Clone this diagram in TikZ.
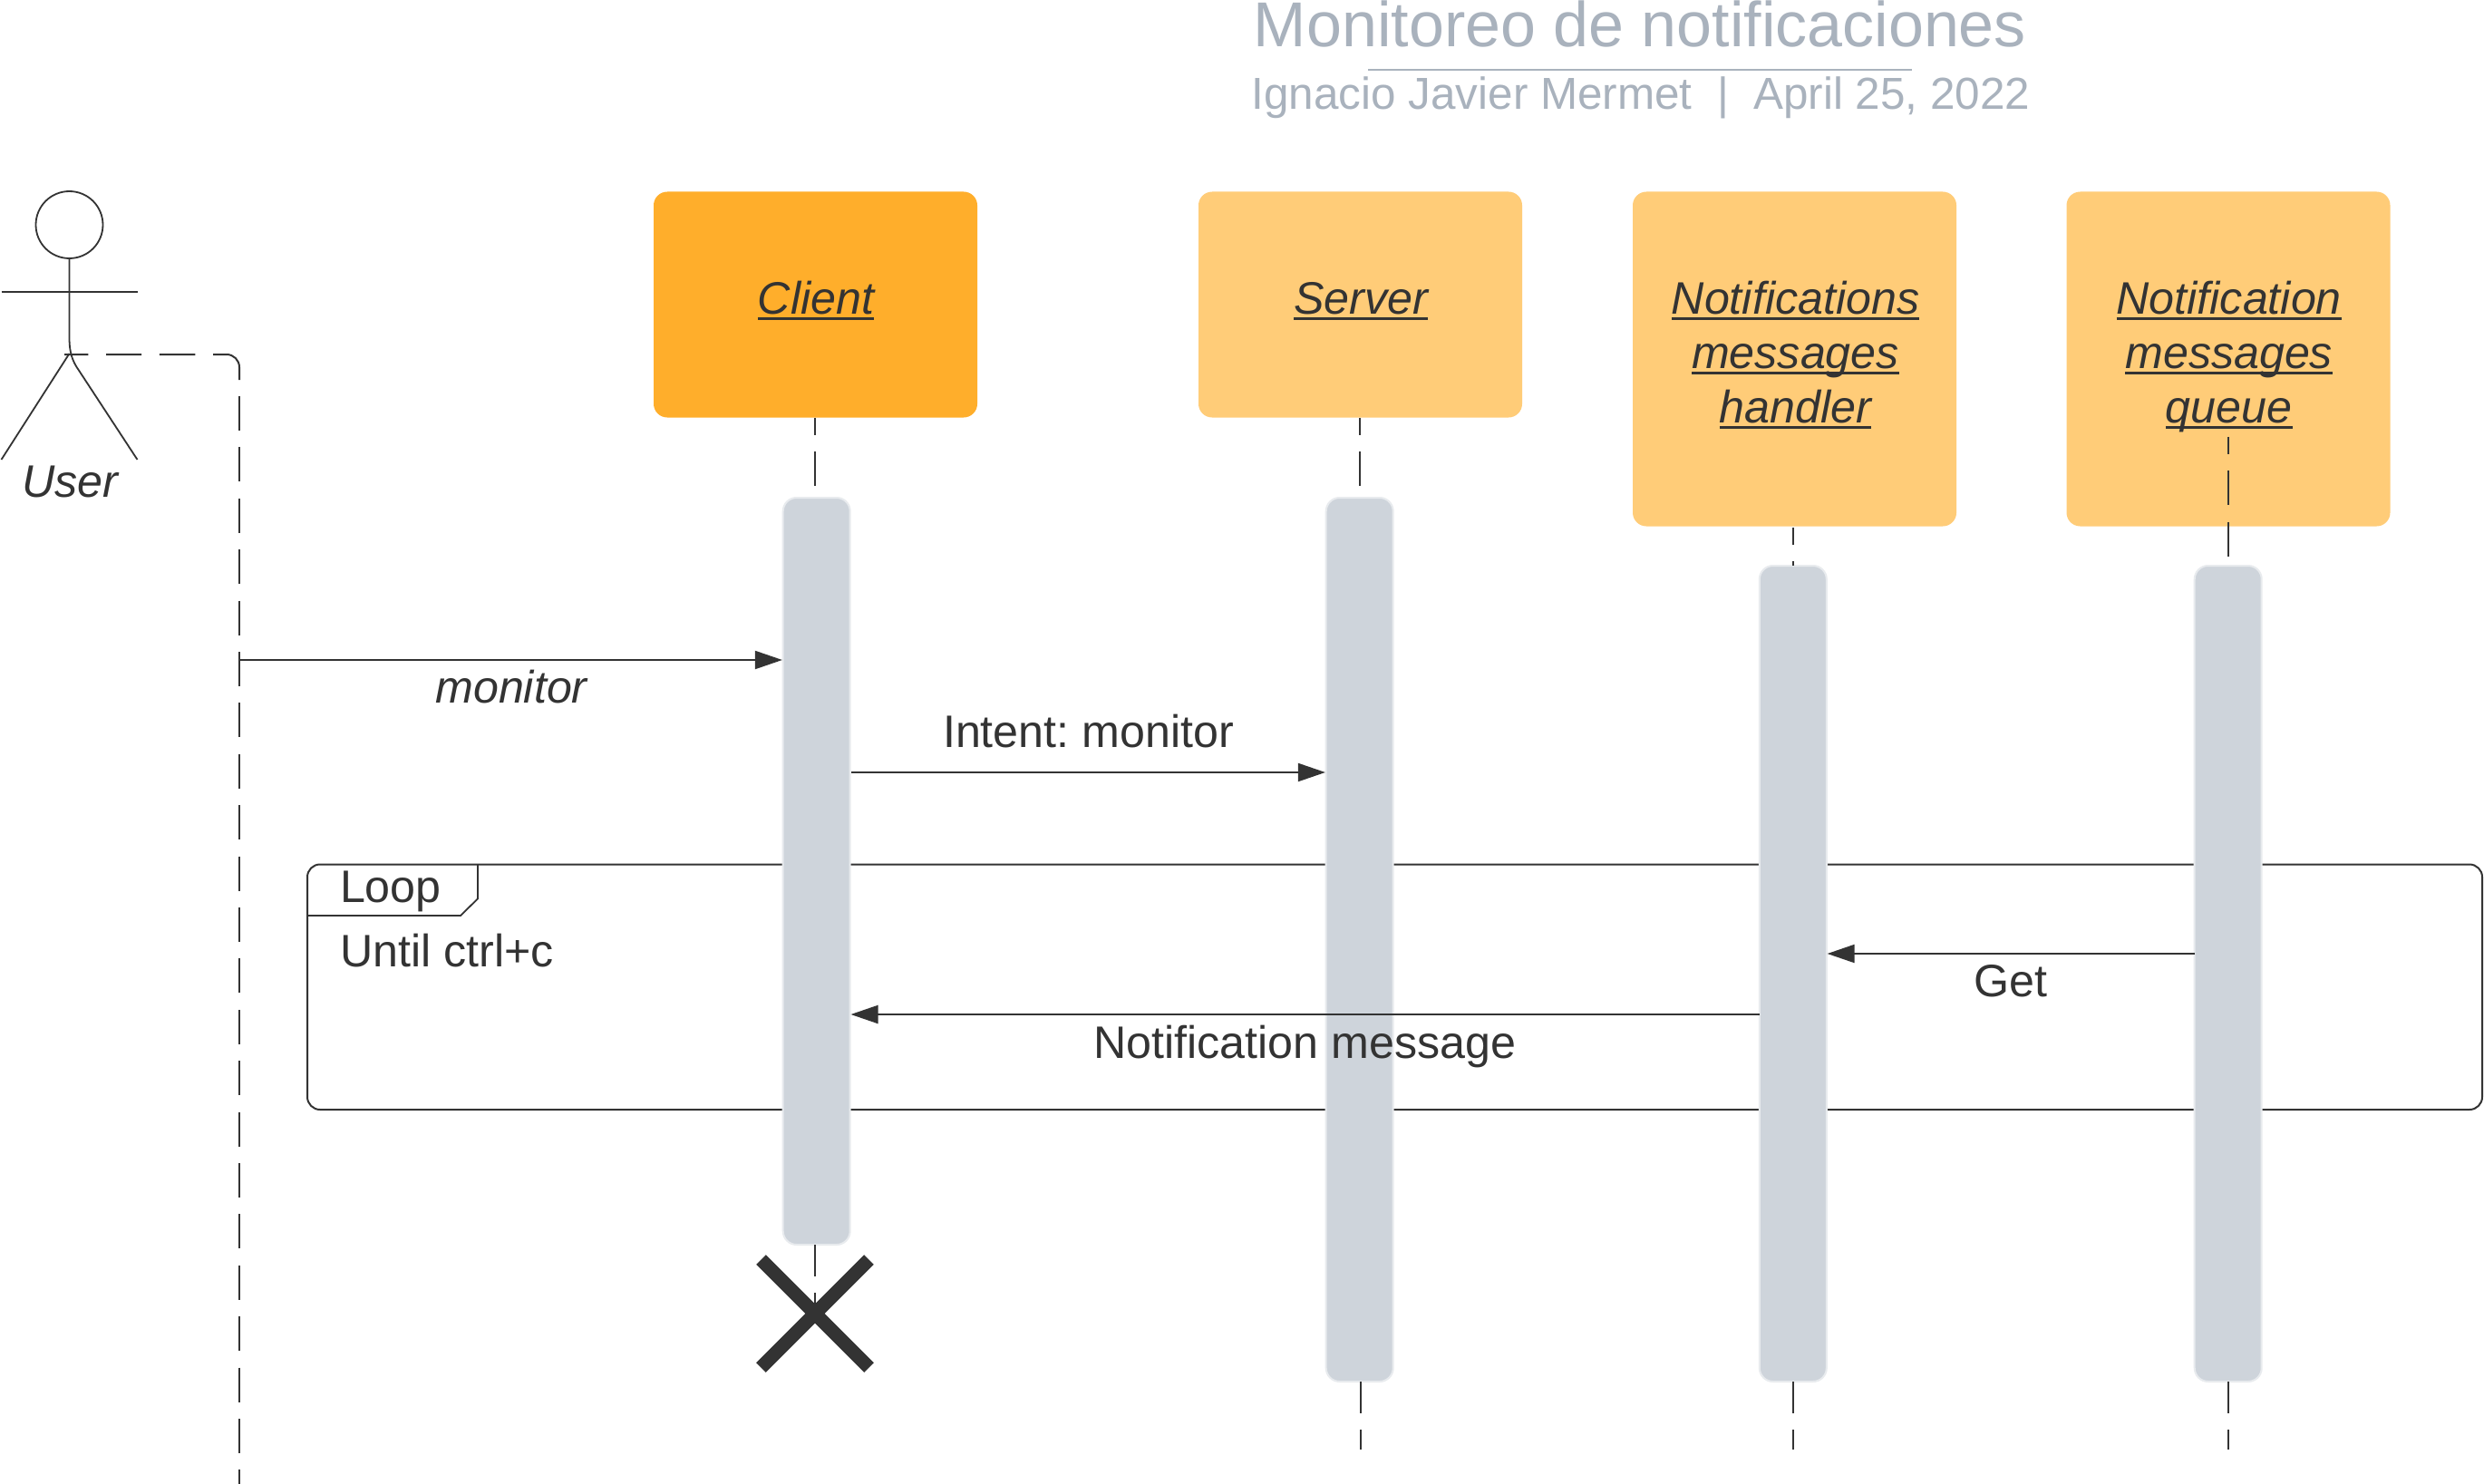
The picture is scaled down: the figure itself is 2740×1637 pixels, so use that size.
\documentclass[tikz,border=0pt]{standalone}
\usepackage{fontspec}
\usetikzlibrary{arrows.meta,shapes.geometric,calc}
\setmainfont{Liberation Sans}
\frenchspacing
\definecolor{ink}{HTML}{333333}
\definecolor{titlegrey}{HTML}{A9B2BD}
\definecolor{barfill}{HTML}{CED4DB}
\definecolor{barline}{HTML}{E8EBEE}
\definecolor{strong}{HTML}{FFAE2B}
\definecolor{soft}{HTML}{FFCC78}
\newsavebox{\ulbox}
\newcommand{\actorname}[1]{\sbox{\ulbox}{#1}\rlap{\vrule width \wd\ulbox height -2.2pt depth 3.55pt}\usebox{\ulbox}}
\tikzset{
  x=0.5pt,y=-0.5pt,
  every node/.style={inner sep=0pt,outer sep=0pt,text=ink},
  base font/.style={font=\fontsize{25.1pt}{30pt}\selectfont},
  italic font/.style={font=\fontsize{25.1pt}{30pt}\selectfont\itshape},
  actorbox/.style={rounded corners=7.5pt,anchor=north west,minimum width=178.5pt,draw=none},
  bar/.style={rounded corners=7.5pt,fill=barfill,draw=barline,line width=1pt,anchor=north,minimum width=37pt},
  boxtext/.style={italic font,align=center,anchor=base},
  msg/.style={base font,anchor=base},
  msgitalic/.style={italic font,anchor=base},
  lifeline/.style={draw=ink,line width=0.9pt,dash pattern=on 19pt off 9.2pt},
  arrowline/.style={draw=ink,line width=1pt,-{Triangle[length=15pt,width=10pt]},shorten >=0.4pt},
  stick/.style={draw=ink,line width=0.9pt},
  frameline/.style={draw=ink,line width=1pt}
}
\begin{document}
\begin{tikzpicture}
\useasboundingbox (0,0) rectangle (2740,1637);
\fill[white] (0,0) rectangle (2740,1637);
% title
\node[font=\fontsize{35pt}{35pt}\selectfont,text=titlegrey,anchor=base] (title) at (1809,51.5) {Monitoreo de notificaciones};
\coordinate (ruleL) at (1509,77);
\coordinate (ruleR) at (2109,77);
\draw[titlegrey,line width=1.2pt] (ruleL) -- (ruleR);
\node[font=\fontsize{24.7pt}{25pt}\selectfont,text=titlegrey,anchor=base] (subtitle) at (1810,120.5) {Ignacio Javier Mermet\ \ |\ \ April 25, 2022};
% actor
\node[draw=ink,line width=0.9pt,ellipse,minimum width=37pt,minimum height=37pt] (head) at (76.5,248) {};
\coordinate (hip) at (76.5,390);
\coordinate (spineEnd) at (76.5,372);
\coordinate (legStart) at (84,404);
\coordinate (armL) at (1.5,322);
\coordinate (armR) at (151.5,322);
\coordinate (footL) at (1.5,507);
\coordinate (footR) at (151.5,507);
\draw[stick] (head.south) -- (spineEnd) .. controls (76.5,384) and (78,394) .. (legStart) -- (footR);
\draw[stick] (armL) -- (armR);
\draw[stick] (footL) -- (hip);
\node[italic font,anchor=base] (user) at (77,548) {User};
% user lifeline
\coordinate (uA) at (71,391);
\coordinate (uC) at (264,391);
\coordinate (uD) at (264,419);
\coordinate (uE) at (264,437);
\coordinate (uF) at (264,1637);
\draw[draw=ink,line width=1pt,rounded corners=7pt,dash pattern=on 13.2pt off 9.85pt on 19.5pt off 9.85pt on 19.8pt off 9.85pt on 40pt] (uA) -- (uC) -- (uD);
\draw[lifeline] (uE) -- (uF);
% frame
\coordinate (fA) at (339,953.5);
\coordinate (fB) at (2738,1224);
\draw[frameline,rounded corners=7pt] (fA) rectangle (fB);
\coordinate (t1) at (527,953.5);
\coordinate (t2) at (527,991.4);
\coordinate (t3) at (508,1010);
\coordinate (t4) at (339,1010);
\draw[draw=ink,line width=0.9pt] (t1) -- (t2) -- (t3) -- (t4);
\node[msg,anchor=base west] (loop) at (375,995) {Loop};
\node[msg,anchor=base west] (guard) at (375,1066) {Until ctrl+c};
% boxes
\node[actorbox,fill=strong,minimum height=124.5pt] (client) at (721,211.5) {};
\node[actorbox,fill=soft,minimum height=124.5pt] (server) at (1322,211.5) {};
\node[actorbox,fill=soft,minimum height=184.5pt] (handler) at (1801,211.5) {};
\node[actorbox,fill=soft,minimum height=184.5pt] (queue) at (2279.5,211.5) {};
\node[boxtext] (clientT) at (900,346) {\actorname{Client}};
\node[boxtext] (serverT) at (1501,346) {\actorname{Server}};
\node[boxtext] (handlerT) at (1980.5,466) {\actorname{Notifications}\\\actorname{messages}\\\actorname{handler}};
\node[boxtext] (queueT) at (2458.7,466) {\actorname{Notification}\\\actorname{messages}\\\actorname{queue}};
% bars
\node[bar,minimum height=412pt] (clientbar) at (900.7,549) {};
\node[bar,minimum height=487.5pt] (serverbar) at (1499.7,549) {};
\node[bar,minimum height=450pt] (handlerbar) at (1977.8,624) {};
\node[bar,minimum height=450pt] (queuebar) at (2457.7,624) {};
% lifelines
\coordinate (cTop) at (899,461);
\coordinate (cEnd) at (899,1449);
\coordinate (sTop) at (1500,461);
\coordinate (sEnd) at (1501,1598.7);
\coordinate (hTop) at (1978,581.5);
\coordinate (hEnd) at (1978,1598.7);
\coordinate (qTop) at (2458,481.7);
\coordinate (qEnd) at (2458,1598.7);
\draw[lifeline,dash phase=9.5pt] (cTop) -- (cTop |- clientbar.north);
\draw[lifeline,dash phase=9.5pt] (sTop) -- (sTop |- serverbar.north);
\draw[lifeline,dash phase=9.5pt] (hTop) -- (hTop |- handlerbar.north);
\draw[lifeline,dash phase=9.5pt] (qTop) -- (qTop |- queuebar.north);
\draw[lifeline,dash phase=1.5pt] (cEnd |- clientbar.south) -- (cEnd);
\draw[lifeline,dash phase=1.5pt] (sEnd |- serverbar.south) -- (sEnd);
\draw[lifeline,dash phase=1.5pt] (hEnd |- handlerbar.south) -- (hEnd);
\draw[lifeline,dash phase=1.5pt] (qEnd |- queuebar.south) -- (qEnd);
% X
\coordinate (x1) at (839.5,1389.5);
\coordinate (x2) at (958.5,1508.5);
\coordinate (x3) at (958.5,1389.5);
\coordinate (x4) at (839.5,1508.5);
\draw[ink,line width=7.5pt] (x1) -- (x2);
\draw[ink,line width=7.5pt] (x3) -- (x4);
% messages
\coordinate (m1) at (264,728);
\coordinate (m2) at (2421,1052);
\coordinate (m3) at (939,852);
\coordinate (m4) at (1941,1119);
\draw[arrowline] (m1) -- (clientbar.west |- m1);
\draw[arrowline] (m3) -- (serverbar.west |- m3);
\draw[arrowline] (m2) -- (handlerbar.east |- m2);
\draw[arrowline] (m4) -- (clientbar.east |- m4);
\node[msgitalic] (l1) at (564,775.5) {monitor};
\node[msg] (l2) at (1200.5,824.5) {Intent: monitor};
\node[msg] (l3) at (2218,1099.5) {Get};
\node[msg] (l4) at (1439.5,1167.5) {Notification message};
\end{tikzpicture}
\end{document}
